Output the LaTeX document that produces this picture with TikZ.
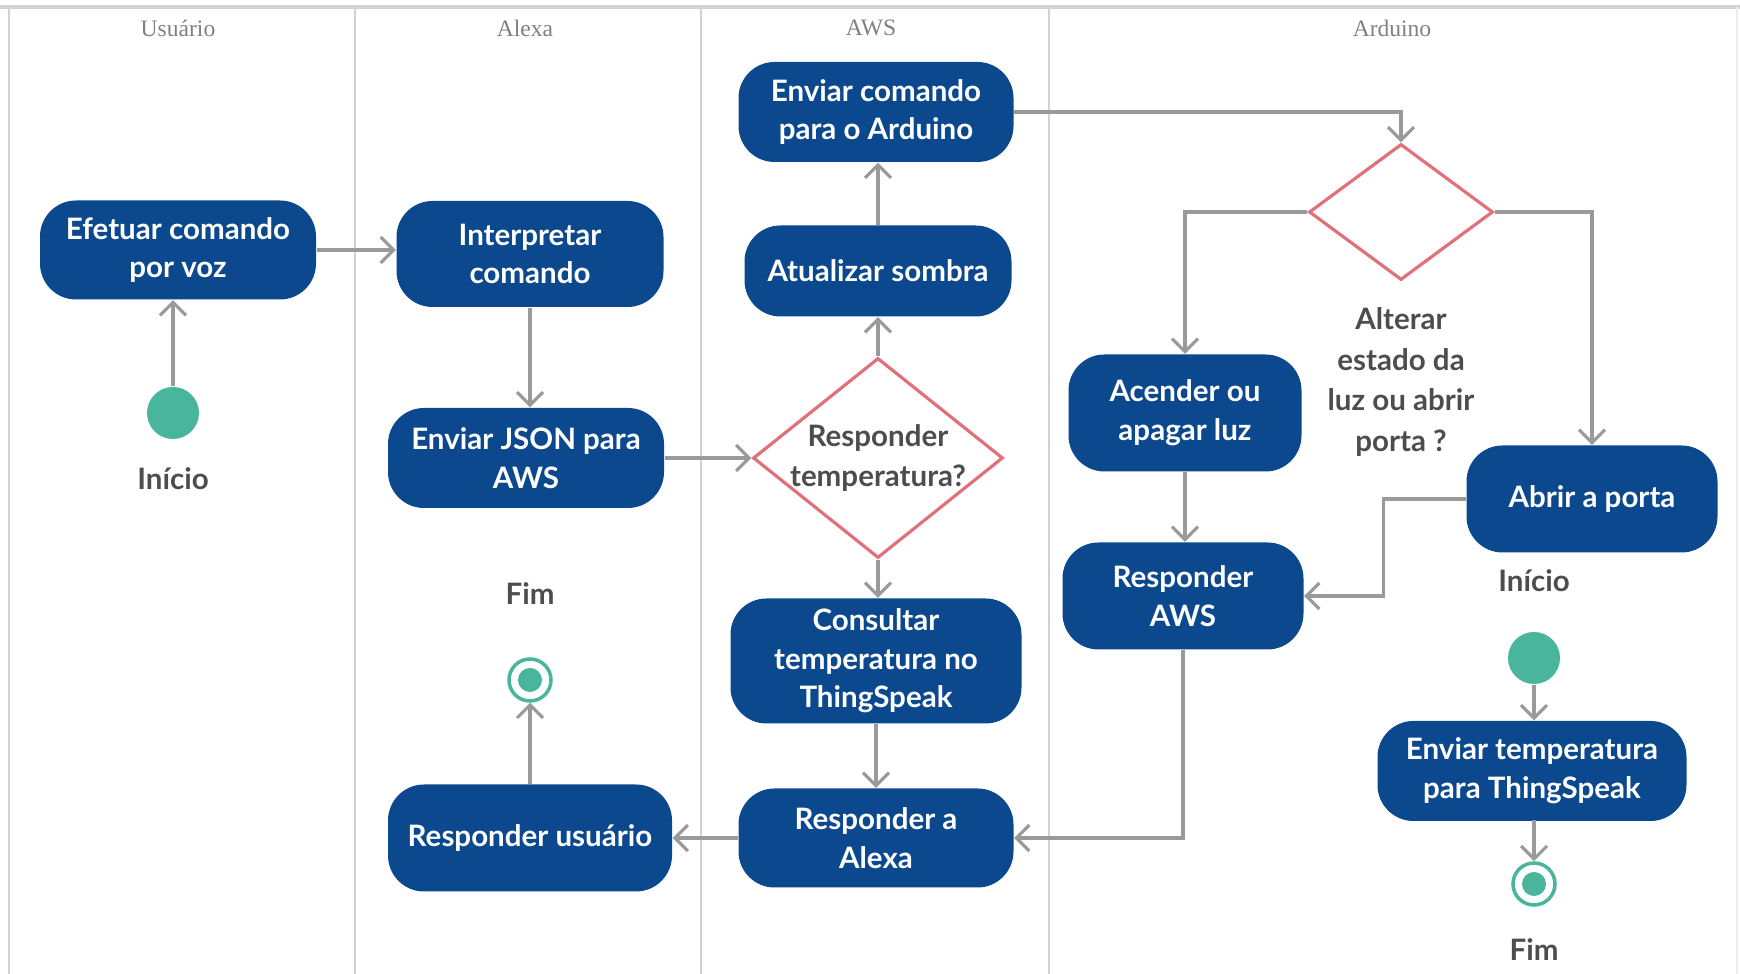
\documentclass[tikz,border=0pt]{standalone}
\usepackage{fontspec}
\setmainfont{Lato}
\newfontfamily\lanefont{Liberation Serif}
\usetikzlibrary{arrows.meta}
\usetikzlibrary{shapes.geometric}
\definecolor{boxblue}{HTML}{0B488E}
\definecolor{startgreen}{HTML}{4AB59D}
\definecolor{decred}{HTML}{E0707A}
\definecolor{flowgrey}{HTML}{9A9A9A}
\definecolor{lanegrey}{HTML}{D2D2D2}
\definecolor{notegrey}{HTML}{4D4D4D}
\tikzstyle{every node}=[inner sep=0.1em]
\tikzstyle{action}=[rectangle, rounded corners=0.36cm, fill=boxblue, text=white, align=center, minimum width=2.75cm, minimum height=1cm, font=\fontsize{8.4}{11}\selectfont\bfseries]
\tikzstyle{decision}=[diamond, draw=decred, line width=0.9pt, fill=white, minimum width=2.5cm, minimum height=2cm, inner sep=0pt]
\tikzstyle{start}=[circle, fill=startgreen, minimum size=0.52cm, inner sep=0pt]
\tikzstyle{stop}=[circle, draw=startgreen, line width=1pt, fill=white, minimum size=0.42cm, inner sep=0pt, path picture={\fill[startgreen] (path picture bounding box.center) circle (0.12);}]
\tikzstyle{note}=[text=notegrey, align=center, font=\fontsize{8.4}{11}\selectfont\bfseries]
\tikzstyle{lanetitle}=[text=black!50, font=\fontsize{6.7}{8}\selectfont\lanefont]
\tikzstyle{flow}=[draw=flowgrey, line width=0.9pt, -{Straight Barb[length=0.13cm, width=0.26cm]}]
\tikzstyle{lane}=[draw=lanegrey, line width=0.6pt]

\begin{document}
\begin{tikzpicture}
    \useasboundingbox (0,0) rectangle (17.40,-9.74);

    % swimlanes
    \draw[lane, line width=1pt] (0,-0.07) -- (17.40,-0.07);
    \foreach \x in {0.09,3.55,7.01,10.49} {
        \draw[lane] (\x,-0.07) -- (\x,-9.74);
    }
    \draw[lane, draw=lanegrey!40] (17.37,-0.07) -- (17.37,-9.74);

    \node[lanetitle] (tUser) at (1.78,-0.28) {Usuário};
    \node[lanetitle] (tAlexa) at (5.25,-0.28) {Alexa};
    \node[lanetitle] (tAws) at (8.71,-0.28) {AWS};
    \node[lanetitle] (tArd) at (13.92,-0.28) {Arduino};

    % Usuario
    \node[action, minimum width=2.76cm, minimum height=0.99cm] (efetuar) at (1.78,-2.50) {Efetuar comando\\por voz};
    \node[start] (start1) at (1.73,-4.13) {};
    \node[note] (inicio1) at (1.73,-4.79) {Início};

    % Alexa
    \node[action, minimum width=2.67cm, minimum height=1.06cm] (interp) at (5.30,-2.54) {Interpretar\\comando};
    \node[action, minimum width=2.76cm] (json) at (5.26,-4.58) {Enviar JSON para\\AWS};
    \node[note] (fim1) at (5.30,-5.94) {Fim};
    \node[stop] (stop1) at (5.30,-6.80) {};
    \node[action, minimum width=2.84cm, minimum height=1.07cm] (respuser) at (5.30,-8.38) {Responder usuário};

    % AWS
    \node[action] (cmd) at (8.76,-1.12) {Enviar comando\\para o Arduino};
    \node[action, minimum width=2.67cm, minimum height=0.91cm] (sombra) at (8.78,-2.71) {Atualizar sombra};
    \node[decision] (dec1) at (8.78,-4.58) {};
    \node[note, font=\fontsize{8.4}{11.4}\selectfont\bfseries] (dec1txt) at (dec1) {Responder\\temperatura?};
    \node[action, minimum width=2.91cm, minimum height=1.25cm] (consultar) at (8.76,-6.61) {Consultar\\temperatura no\\ThingSpeak};
    \node[action, minimum height=0.99cm] (respalexa) at (8.76,-8.38) {Responder a\\Alexa};

    % Arduino
    \node[decision, minimum width=1.84cm, minimum height=1.36cm] (dec2) at (14.01,-2.12) {};
    \node[note, font=\fontsize{8.4}{11.6}\selectfont\bfseries] (dec2txt) at (14.01,-3.82) {Alterar\\estado da\\luz ou abrir\\porta ?};
    \node[action, minimum width=2.33cm, minimum height=1.17cm] (acender) at (11.85,-4.13) {Acender ou\\apagar luz};
    \node[action, minimum width=2.41cm, minimum height=1.07cm] (respaws) at (11.83,-5.96) {Responder\\AWS};
    \node[action, minimum width=2.51cm, minimum height=1.07cm] (abrir) at (15.92,-4.99) {Abrir a porta};
    \node[note] (inicio2) at (15.34,-5.81) {Início};
    \node[start] (start2) at (15.34,-6.58) {};
    \node[action, minimum width=3.09cm] (envtemp) at (15.32,-7.71) {Enviar temperatura\\para ThingSpeak};
    \node[stop] (stop2) at (15.34,-8.84) {};
    \node[note] (fim2) at (15.34,-9.50) {Fim};

    % fluxo
    \draw[flow] (start1) -- (start1 |- efetuar.south);
    \draw[flow] (efetuar.east) -- (efetuar.east -| interp.west);
    \draw[flow] (interp.south) -- (interp.south |- json.north);
    \draw[flow] (json.east) -- (dec1.west);
    \draw[flow] (dec1.north) -- (dec1.north |- sombra.south);
    \draw[flow] (sombra.north) -- (sombra.north |- cmd.south);
    \draw[flow] (cmd.east) -| (dec2.north);
    \draw[flow] (dec2.west) -| (acender.north);
    \draw[flow] (dec2.east) -| (abrir.north);
    \draw[flow] (acender.south) -- (acender.south |- respaws.north);
    \draw[flow] (abrir.west) -- ++(-0.82,0) |- (respaws.east);
    \draw[flow] (respaws.south) |- (respalexa.east);
    \draw[flow] (dec1.south) -- (dec1.south |- consultar.north);
    \draw[flow] (consultar.south) -- (consultar.south |- respalexa.north);
    \draw[flow] (respalexa.west) -- (respuser.east);
    \draw[flow] (respuser.north) -- (stop1.south);
    \draw[flow] (start2) -- (start2 |- envtemp.north);
    \draw[flow] (envtemp.south) -- (envtemp.south -| stop2) -- (stop2.north);

\end{tikzpicture}
\end{document}
